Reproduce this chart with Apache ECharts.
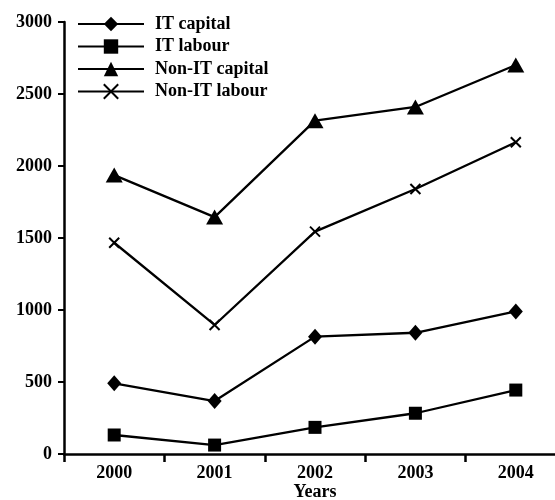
<!DOCTYPE html>
<html><head><meta charset="utf-8">
<script src="https://cdn.jsdelivr.net/npm/echarts@6/dist/echarts.min.js"></script>
<style>html,body{margin:0;padding:0;background:#fff}#c{width:555px;height:500px}</style>
</head><body><div id="c"></div>
<script>
const years = ['2000','2001','2002','2003','2004'];
const itCapital = [491, 368, 815, 842, 990];
const itLabour = [132, 62, 185, 283, 444];
const nonItCapital = [1937, 1645, 2315, 2410, 2701];
const nonItLabour = [1467, 896, 1544, 1840, 2165];
const yTicks = [0, 500, 1000, 1500, 2000, 2500, 3000];

const font = '"Liberation Serif", "Times New Roman", serif';
const crossPath = 'path://M0,0L10,10M10,0L0,10';
function mk(name, data, symbol, size, extra) {
  return Object.assign({
    name, type: 'line', data, symbol, symbolSize: size,
    lineStyle: {color: '#000', width: 2.3},
    itemStyle: {color: '#000'},
    animation: false
  }, extra || {});
}
const chart = echarts.init(document.getElementById('c'), null, {renderer: 'canvas'});
chart.setOption({
  backgroundColor: '#fff',
  animation: false,
  grid: {left: 64, top: 22, width: 502, height: 432, outerBoundsMode: 'none', containLabel: false},
  legend: {
    left: 77, top: 15, orient: 'vertical', padding: 0,
    itemWidth: 66, itemHeight: 18, itemGap: 4.5,
    textStyle: {fontFamily: font, fontWeight: 'bold', fontSize: 18, color: '#000', padding: [0,0,0,6]},
    data: ['IT capital', 'IT labour', 'Non-IT capital', 'Non-IT labour']
  },
  xAxis: {
    type: 'category', data: years, boundaryGap: true,
    name: 'Years', nameLocation: 'middle', nameGap: 29, nameMoveOverlap: false,
    nameTextStyle: {fontFamily: font, fontWeight: 'bold', fontSize: 18, color: '#000'},
    axisLine: {lineStyle: {color: '#000', width: 2.5}},
    axisTick: {show: true, length: 8, lineStyle: {color: '#000', width: 2.5}},
    axisLabel: {fontFamily: font, fontWeight: 'bold', fontSize: 18, color: '#000', margin: 10},
    splitLine: {show: false}
  },
  yAxis: {
    type: 'value', min: yTicks[0], max: yTicks[yTicks.length-1], interval: 500,
    axisLine: {show: true, lineStyle: {color: '#000', width: 2.5}},
    axisTick: {show: true, length: 6, lineStyle: {color: '#000', width: 2}},
    axisLabel: {fontFamily: font, fontWeight: 'bold', fontSize: 18, color: '#000', margin: 12,
      formatter: v => String(v)},
    splitLine: {show: false}
  },
  series: [
    mk('IT capital', itCapital, 'diamond', [14, 16]),
    mk('IT labour', itLabour, 'rect', 13),
    mk('Non-IT capital', nonItCapital, 'triangle', [17, 15]),
    mk('Non-IT labour', nonItLabour, crossPath, 10, {itemStyle: {color: '#000', borderColor: '#000', borderWidth: 2}})
  ]
});
</script></body></html>
